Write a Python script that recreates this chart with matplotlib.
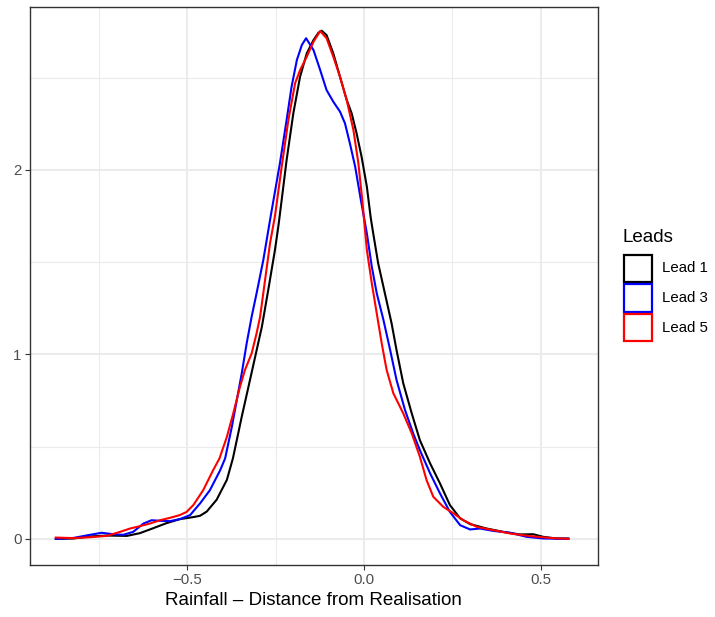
import matplotlib
matplotlib.use("Agg")
import matplotlib.pyplot as plt
from matplotlib.patches import Rectangle
from matplotlib.ticker import FuncFormatter, MultipleLocator

plt.rcParams["font.family"] = ["Liberation Sans", "DejaVu Sans"]

# density curves (x, density)
lead1_x = [-0.872, -0.822, -0.775, -0.728, -0.671, -0.634, -0.596, -0.559, -0.521, -0.483,
           -0.464, -0.445, -0.417, -0.388, -0.371, -0.360, -0.346, -0.327, -0.308, -0.289,
           -0.271, -0.252, -0.242, -0.233, -0.219, -0.200, -0.181, -0.162, -0.143, -0.129,
           -0.120, -0.106, -0.087, -0.068, -0.049, -0.035, -0.021, -0.007, 0.008, 0.019,
           0.026, 0.040, 0.059, 0.078, 0.092, 0.111, 0.135, 0.158, 0.187, 0.215,
           0.243, 0.272, 0.300, 0.347, 0.394, 0.441, 0.479, 0.507, 0.545, 0.578]
lead1_y = [0.000, 0.002, 0.013, 0.018, 0.016, 0.031, 0.058, 0.085, 0.107, 0.118,
           0.125, 0.148, 0.212, 0.320, 0.436, 0.535, 0.662, 0.824, 0.987, 1.150,
           1.349, 1.566, 1.700, 1.837, 2.054, 2.307, 2.505, 2.632, 2.704, 2.744,
           2.755, 2.731, 2.632, 2.505, 2.379, 2.307, 2.198, 2.072, 1.909, 1.740,
           1.656, 1.494, 1.331, 1.168, 1.023, 0.843, 0.680, 0.535, 0.409, 0.300,
           0.183, 0.111, 0.080, 0.056, 0.038, 0.024, 0.025, 0.011, 0.002, 0.002]

lead3_x = [-0.872, -0.822, -0.775, -0.742, -0.709, -0.681, -0.653, -0.624, -0.601, -0.577,
           -0.549, -0.521, -0.492, -0.464, -0.436, -0.407, -0.393, -0.374, -0.360, -0.346,
           -0.332, -0.318, -0.304, -0.285, -0.264, -0.238, -0.219, -0.205, -0.190, -0.176,
           -0.164, -0.143, -0.124, -0.106, -0.087, -0.068, -0.054, -0.040, -0.025, -0.009,
           0.008, 0.022, 0.036, 0.055, 0.074, 0.092, 0.116, 0.139, 0.158, 0.187,
           0.215, 0.243, 0.272, 0.300, 0.328, 0.366, 0.413, 0.460, 0.507, 0.578]
lead3_y = [0.000, 0.005, 0.022, 0.033, 0.025, 0.022, 0.038, 0.083, 0.101, 0.098,
           0.096, 0.107, 0.129, 0.192, 0.264, 0.372, 0.436, 0.607, 0.752, 0.897,
           1.060, 1.204, 1.331, 1.511, 1.750, 2.036, 2.271, 2.451, 2.596, 2.677,
           2.714, 2.650, 2.541, 2.433, 2.370, 2.316, 2.253, 2.144, 2.017, 1.837,
           1.656, 1.475, 1.331, 1.186, 1.023, 0.861, 0.698, 0.572, 0.481, 0.355,
           0.246, 0.146, 0.074, 0.051, 0.056, 0.043, 0.033, 0.011, 0.002, 0.000]

lead5_x = [-0.872, -0.822, -0.775, -0.728, -0.690, -0.662, -0.634, -0.606, -0.577, -0.549,
           -0.521, -0.502, -0.483, -0.455, -0.427, -0.409, -0.388, -0.370, -0.351, -0.337,
           -0.318, -0.304, -0.294, -0.280, -0.266, -0.252, -0.233, -0.214, -0.195, -0.181,
           -0.162, -0.143, -0.124, -0.106, -0.087, -0.068, -0.049, -0.030, -0.016, -0.005,
           0.008, 0.022, 0.036, 0.050, 0.064, 0.083, 0.111, 0.135, 0.158, 0.177,
           0.196, 0.224, 0.253, 0.281, 0.319, 0.366, 0.413, 0.470, 0.526, 0.578]
lead5_y = [0.007, 0.004, 0.009, 0.016, 0.038, 0.056, 0.069, 0.083, 0.101, 0.114,
           0.129, 0.146, 0.183, 0.264, 0.372, 0.436, 0.553, 0.680, 0.824, 0.915,
           1.005, 1.114, 1.204, 1.403, 1.602, 1.750, 2.017, 2.271, 2.470, 2.541,
           2.614, 2.695, 2.753, 2.714, 2.614, 2.505, 2.379, 2.216, 2.036, 1.837,
           1.566, 1.385, 1.222, 1.060, 0.915, 0.789, 0.680, 0.572, 0.445, 0.318,
           0.228, 0.174, 0.138, 0.101, 0.065, 0.047, 0.029, 0.015, 0.005, 0.000]

series = [("Lead 1", lead1_x, lead1_y, "black"),
          ("Lead 3", lead3_x, lead3_y, "#0000FF"),
          ("Lead 5", lead5_x, lead5_y, "#FF0000")]

fig = plt.figure(figsize=(7.15, 6.17), dpi=100)
W, H = 715, 617
ax = fig.add_axes([30 / W, (H - 564.5) / H, 567.5 / W, 558 / H])

# ggplot theme_bw look
grid_col = "#EBEBEB"
ax.set_xlim(-0.945, 0.6605)
ax.set_ylim(-0.139, 2.886)
ax.xaxis.set_major_locator(MultipleLocator(0.5))
ax.xaxis.set_minor_locator(MultipleLocator(0.25))
ax.yaxis.set_major_locator(MultipleLocator(1))
ax.yaxis.set_minor_locator(MultipleLocator(0.5))
ax.grid(True, which="major", color=grid_col, linewidth=1.5)
ax.grid(True, which="minor", color=grid_col, linewidth=0.8)
ax.set_axisbelow(True)
ax.xaxis.set_major_formatter(FuncFormatter(lambda v, _: f"{v:.1f}".replace("-", "\u2212")))
ax.yaxis.set_major_formatter(FuncFormatter(lambda v, _: f"{v:.0f}"))
ax.tick_params(which="major", length=3.5, width=0.8, color="#333333",
               labelcolor="#4D4D4D", labelsize=10.8, pad=2.5)
ax.tick_params(which="minor", length=0)
for sp in ax.spines.values():
    sp.set_color("#333333")
    sp.set_linewidth(1.0)

for name, xs, ys, col in series:
    ax.plot(xs, ys, color=col, linewidth=1.5, solid_joinstyle="round")

ax.set_xlabel("Rainfall \u2013 Distance from Realisation", fontsize=13.5,
              color="black", labelpad=4)

# legend drawn by hand in pixel coords
lax = fig.add_axes([0, 0, 1, 1], facecolor="none")
lax.set_xlim(0, W)
lax.set_ylim(H, 0)
lax.axis("off")
lax.text(623, 242, "Leads", fontsize=13.5, ha="left", va="baseline")
key_top = 254.5
for i, (name, xs, ys, col) in enumerate(series):
    y0 = key_top + i * 29.5
    lax.add_patch(Rectangle((624.3, y0), 28, 27.5, facecolor="white",
                            edgecolor=col, linewidth=1.6))
    lax.text(662.5, y0 + 14, name, fontsize=10.8, ha="left", va="center")

fig.savefig("out.png", dpi=100)
